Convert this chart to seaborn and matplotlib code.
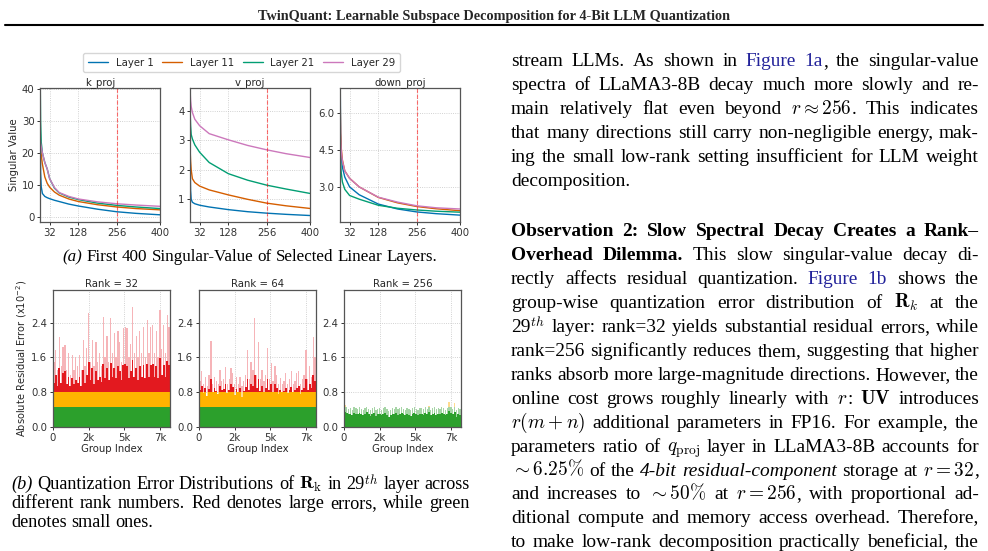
import re
import numpy as np
import pandas as pd
import matplotlib
matplotlib.use("Agg")
import matplotlib.pyplot as plt
import seaborn as sns
from matplotlib.lines import Line2D

# ------------------------------------------------------------------ data
LAYERS = ["Layer 1", "Layer 11", "Layer 21", "Layer 29"]
LAYER_COLORS = ["#0173b2", "#d55e00", "#029e73", "#cc78bc"]

# k_proj singular values (index -> value)
K_X = [1, 2, 4, 8, 16, 24, 32, 48, 64, 96, 128, 192, 256, 320, 400]
K_L1 = [27, 14, 9.5, 7.3, 6.4, 6.0, 5.7, 5.2, 4.8, 4.0, 3.4, 2.4, 1.6, 1.1, 0.65]
K_L11 = [22, 21, 19.5, 16.5, 12.5, 10.5, 9.3, 7.8, 6.8, 5.6, 4.8, 3.8, 3.1, 2.6, 2.2]
K_L21 = [40, 30, 23.5, 20, 17, 15, 12, 9.0, 7.5, 6.2, 5.4, 4.3, 3.6, 3.1, 2.6]
K_L29 = [24, 23, 22, 20, 17, 15, 12, 9.2, 7.6, 6.4, 5.6, 4.7, 4.1, 3.7, 3.3]

# v_proj
V_X = [1, 2, 4, 8, 16, 32, 64, 128, 192, 256, 320, 400]
V_L1 = [1.9, 1.3, 1.0, 0.9, 0.85, 0.8, 0.74, 0.65, 0.58, 0.53, 0.49, 0.45]
V_L11 = [2.55, 2.3, 2.0, 1.7, 1.57, 1.45, 1.32, 1.15, 1.0, 0.87, 0.78, 0.69]
V_L21 = [3.8, 3.5, 3.2, 3.05, 2.85, 2.6, 2.25, 1.87, 1.65, 1.48, 1.35, 1.2]
V_L29 = [4.55, 4.35, 4.15, 3.95, 3.72, 3.5, 3.23, 3.02, 2.83, 2.68, 2.55, 2.42]

# down_proj
D_X = [1, 2, 4, 8, 16, 32, 64, 128, 192, 256, 320, 400]
D_L1 = [6.8, 5.2, 4.3, 3.8, 3.4, 3.0, 2.68, 2.3, 2.1, 1.98, 1.91, 1.85]
D_L11 = [6.3, 5.2, 4.6, 4.1, 3.65, 3.35, 3.0, 2.57, 2.35, 2.2, 2.11, 2.03]
D_L21 = [4.9, 4.0, 3.6, 3.2, 2.9, 2.65, 2.5, 2.25, 2.13, 2.06, 2.01, 1.97]
D_L29 = [6.0, 5.0, 4.5, 4.05, 3.65, 3.35, 3.0, 2.58, 2.38, 2.23, 2.15, 2.1]

TOP_PANELS = ["k_proj", "v_proj", "down_proj"]

# residual error per block of 128 groups (x1e-2); 8192 groups in total
N_GROUPS = 8192
RANKS = ["Rank = 32", "Rank = 64", "Rank = 256"]
R32_PEAK = [1.50, 1.77, 1.30, 2.08, 1.40, 1.85, 1.89, 1.30, 1.70, 1.20, 1.66, 1.30, 1.62, 1.40, 1.65, 1.30,
            2.00, 1.40, 1.81, 2.61, 1.50, 2.00, 1.40, 1.95, 1.50, 1.70, 1.40, 2.54, 1.60, 2.10, 1.50, 2.50,
            1.70, 2.16, 1.60, 2.20, 1.95, 1.50, 2.27, 2.31, 2.27, 1.60, 1.90, 2.77, 1.70, 2.10, 1.60, 2.20,
            1.70, 2.30, 1.60, 2.46, 1.70, 2.30, 2.35, 1.70, 2.20, 1.60, 2.69, 1.80, 2.35, 1.70, 2.58, 2.30]
R32_SOLID = [1.02, 1.20, 0.95, 1.35, 1.02, 1.25, 1.28, 0.98, 1.15, 0.95, 1.12, 1.00, 1.08, 1.02, 1.15, 0.95,
             1.30, 1.02, 1.20, 1.50, 1.08, 1.35, 1.00, 1.28, 1.08, 1.15, 1.03, 1.45, 1.12, 1.35, 1.08, 1.48,
             1.15, 1.35, 1.12, 1.40, 1.28, 1.08, 1.42, 1.45, 1.40, 1.12, 1.28, 1.55, 1.15, 1.35, 1.08, 1.40,
             1.15, 1.42, 1.12, 1.45, 1.15, 1.42, 1.45, 1.15, 1.40, 1.12, 1.58, 1.20, 1.42, 1.15, 1.52, 1.42]
R64_PEAK = [1.05, 1.28, 1.00, 1.16, 0.95, 1.20, 1.98, 1.00, 1.15, 1.05, 1.00, 1.31, 1.05, 1.10, 1.39, 1.00,
            1.10, 1.35, 1.25, 1.00, 1.15, 1.00, 1.15, 0.95, 1.05, 1.20, 1.77, 1.10, 1.50, 1.30, 2.50, 1.20,
            1.96, 1.10, 1.30, 1.05, 1.20, 1.81, 1.10, 1.47, 1.05, 1.40, 1.20, 1.00, 1.12, 1.00, 1.05, 1.24,
            1.00, 1.10, 1.28, 1.00, 1.05, 1.24, 1.28, 1.00, 1.10, 1.20, 1.77, 1.10, 1.40, 1.15, 2.08, 1.60]
R64_SOLID = [0.85, 0.95, 0.78, 0.90, 0.72, 0.88, 1.10, 0.80, 0.90, 0.82, 0.75, 0.95, 0.85, 0.88, 1.00, 0.78,
             0.85, 0.98, 0.92, 0.74, 0.88, 0.80, 0.90, 0.70, 0.82, 0.92, 1.10, 0.85, 1.00, 0.95, 1.20, 0.90,
             1.10, 0.82, 0.95, 0.80, 0.90, 1.10, 0.85, 1.00, 0.80, 0.98, 0.90, 0.76, 0.86, 0.80, 0.82, 0.90,
             0.78, 0.86, 0.92, 0.80, 0.84, 0.90, 0.95, 0.75, 0.86, 0.90, 1.10, 0.85, 1.00, 0.90, 1.20, 1.05]
R256_PEAK = [0.50, 0.45, 0.42, 0.44, 0.40, 0.46, 0.43, 0.41, 0.45, 0.42, 0.40, 0.44, 0.47, 0.41, 0.39, 0.43,
             0.45, 0.38, 0.42, 0.44, 0.40, 0.43, 0.46, 0.41, 0.36, 0.40, 0.44, 0.42, 0.45, 0.41, 0.43, 0.47,
             0.42, 0.40, 0.44, 0.41, 0.39, 0.43, 0.46, 0.42, 0.40, 0.44, 0.43, 0.41, 0.45, 0.42, 0.48, 0.40,
             0.43, 0.45, 0.41, 0.44, 0.42, 0.46, 0.43, 0.40, 0.44, 0.58, 0.45, 0.42, 0.55, 0.40, 0.44, 0.41]
R256_SOLID = [0.34, 0.32, 0.30, 0.31, 0.28, 0.33, 0.30, 0.29, 0.32, 0.30, 0.27, 0.31, 0.34, 0.29, 0.26, 0.30,
              0.32, 0.25, 0.29, 0.31, 0.28, 0.30, 0.33, 0.28, 0.22, 0.27, 0.31, 0.29, 0.32, 0.28, 0.30, 0.33,
              0.29, 0.27, 0.31, 0.28, 0.26, 0.30, 0.33, 0.29, 0.27, 0.31, 0.30, 0.28, 0.32, 0.29, 0.34, 0.27,
              0.30, 0.32, 0.28, 0.31, 0.29, 0.33, 0.30, 0.27, 0.31, 0.36, 0.32, 0.29, 0.34, 0.22, 0.30, 0.28]
GREEN_MAX = 0.46
ORANGE_MAX = 0.80

# page text
TITLE = "TwinQuant: Learnable Subspace Decomposition for 4-Bit LLM Quantization"
CAP_A = "<i>(a)</i> First 400 Singular-Value of Selected Linear Layers."
CAP_B = [
    "<i>(b)</i> Quantization Error Distributions of <m>$\\mathbf{R}_\\mathrm{k}$</m> in 29<m>$^{th}$</m> layer across",
    "different rank numbers.  Red denotes large errors, while green",
    "denotes small ones.",
]
BODY_1 = [
    "stream LLMs.  As shown in <l>Figure 1a</l>, the singular-value",
    "spectra of LLaMA3-8B decay much more slowly and re-",
    "main relatively flat even beyond <m>$r \\approx 256$</m>.  This indicates",
    "that many directions still carry non-negligible energy, mak-",
    "ing the small low-rank setting insufficient for LLM weight",
    "decomposition.",
]
BODY_2 = [
    "<b>Observation 2: Slow Spectral Decay Creates a Rank–</b>",
    "<b>Overhead Dilemma.</b> This slow singular-value decay di-",
    "rectly affects residual quantization. <l>Figure 1b</l> shows the",
    "group-wise quantization error distribution of <m>$\\mathbf{R}_k$</m> at the",
    "29<m>$^{th}$</m> layer: rank=32 yields substantial residual errors, while",
    "rank=256 significantly reduces them, suggesting that higher",
    "ranks absorb more large-magnitude directions. However, the",
    "online cost grows roughly linearly with <m>$r$</m>: <m>$\\mathbf{UV}$</m> introduces",
    "<m>$r(m+n)$</m> additional parameters in FP16. For example, the",
    "parameters ratio of <m>$q_{\\mathrm{proj}}$</m> layer in LLaMA3-8B accounts for",
    "<m>$\\sim 6.25\\%$</m> of the <i>4-bit residual-component</i> storage at <m>$r = 32$</m>,",
    "and increases to <m>$\\sim 50\\%$</m> at <m>$r = 256$</m>, with proportional ad-",
    "ditional compute and memory access overhead. Therefore,",
    "to make low-rank decomposition practically beneficial, the",
]

# ------------------------------------------------------------------ setup
W, H = 988, 551
sns.set_theme(style="ticks")
plt.rcParams["font.family"] = ["DejaVu Sans"]
plt.rcParams.update({
    "axes.edgecolor": "#444444", "axes.linewidth": 0.9,
    "xtick.color": "#333333", "ytick.color": "#333333",
    "xtick.major.size": 2.5, "ytick.major.size": 2.5,
    "xtick.major.width": 0.7, "ytick.major.width": 0.7,
    "xtick.major.pad": 1.5, "ytick.major.pad": 1.5,
    "xtick.labelsize": 7.3, "ytick.labelsize": 7.3,
})
fig = plt.figure(figsize=(W / 100, H / 100), dpi=100)
fig.patch.set_facecolor("white")
renderer = fig.canvas.get_renderer()
SERIF = "Liberation Serif"


def ax_px(x0, y0, x1, y1):
    return fig.add_axes([x0 / W, 1 - y1 / H, (x1 - x0) / W, (y1 - y0) / H])


def style_axes(ax):
    ax.grid(True, linestyle=":", linewidth=0.6, color="#c4c4c4")
    ax.set_axisbelow(True)
    for s in ax.spines.values():
        s.set_visible(True)
        s.set_color("#555555")


# ------------------------------------------------------------------ top row
top_boxes = [(40, 88, 160, 222), (190, 88, 310, 222), (340, 88, 460, 222)]
top_data = [
    (K_X, [K_L1, K_L11, K_L21, K_L29], (-1.6, 40.3), [0, 10, 20, 30, 40], ["0", "10", "20", "30", "40"]),
    (V_X, [V_L1, V_L11, V_L21, V_L29], (0.23, 4.78), [1, 2, 3, 4], ["1", "2", "3", "4"]),
    (D_X, [D_L1, D_L11, D_L21, D_L29], (1.57, 7.03), [3.0, 4.5, 6.0], ["3.0", "4.5", "6.0"]),
]
for i, (box, (xs, series, ylim, yt, ytl)) in enumerate(zip(top_boxes, top_data)):
    ax = ax_px(*box)
    frames = [pd.DataFrame({"idx": xs, "value": v, "layer": name}) for v, name in zip(series, LAYERS)]
    df = pd.concat(frames, ignore_index=True)
    sns.lineplot(data=df, x="idx", y="value", hue="layer", palette=LAYER_COLORS,
                 linewidth=1.0, legend=False, ax=ax)
    ax.axvline(256, color="red", linestyle="--", linewidth=0.8, alpha=0.55)
    ax.set_xlim(0, 400)
    ax.set_ylim(*ylim)
    ax.set_xticks([32, 128, 256, 400])
    ax.set_xticklabels(["32", "128", "256", "400"])
    ax.set_yticks(yt)
    ax.set_yticklabels(ytl)
    ax.set_xlabel("")
    ax.set_ylabel("Singular Value" if i == 0 else "", fontsize=7.3, labelpad=2)
    ax.set_title(TOP_PANELS[i], fontsize=7.3, pad=2)
    style_axes(ax)

handles = [Line2D([], [], color=c, lw=1.0) for c in LAYER_COLORS]
fig.legend(handles, LAYERS, loc="center", bbox_to_anchor=(241.5 / W, 1 - 62.8 / H),
           ncol=4, fontsize=7.3, frameon=True, handlelength=2.0, columnspacing=0.85,
           borderpad=0.45, handletextpad=0.75, edgecolor="#cccccc", fancybox=True)

# ------------------------------------------------------------------ bottom row
bot_boxes = [(53, 290, 170, 427), (199, 290, 316, 427), (344, 290, 461, 427)]
bot_data = [(R32_PEAK, R32_SOLID), (R64_PEAK, R64_SOLID), (R256_PEAK, R256_SOLID)]
n_bins = len(R32_PEAK)
bin_w = N_GROUPS / n_bins
centers = bin_w * (np.arange(n_bins) + 0.5)
LIGHT = ["#f6b4b8", "#ffdb90", "#a6d5a6"]
SOLID = ["#e3191f", "#ffb300", "#2ca02c"]
for i, (box, (peak, solid)) in enumerate(zip(bot_boxes, bot_data)):
    ax = ax_px(*box)
    peak = np.asarray(peak)
    solid = np.asarray(solid)
    light_layers = [(peak, LIGHT[0]), (np.minimum(peak, ORANGE_MAX), LIGHT[1]),
                    (np.minimum(peak, GREEN_MAX), LIGHT[2])]
    solid_layers = [(solid, SOLID[0]), (np.minimum(solid, ORANGE_MAX), SOLID[1]),
                    (np.minimum(solid, GREEN_MAX), SOLID[2])]
    for h, c in light_layers:
        sns.histplot(x=centers, weights=h, bins=n_bins, binrange=(0, N_GROUPS), stat="count",
                     element="bars", shrink=0.7, color=c, alpha=1, linewidth=0, ax=ax)
    for h, c in solid_layers:
        sns.histplot(x=centers, weights=h, bins=n_bins, binrange=(0, N_GROUPS), stat="count",
                     element="bars", color=c, alpha=1, linewidth=0, ax=ax)
    ax.set_xlim(0, N_GROUPS)
    ax.set_ylim(0, 3.15)
    ax.set_xticks([0, 2500, 5000, 7500])
    ax.set_xticklabels(["0", "2k", "5k", "7k"])
    ax.set_yticks([0, 0.8, 1.6, 2.4])
    ax.set_yticklabels(["0.0", "0.8", "1.6", "2.4"])
    ax.set_xlabel("Group Index", fontsize=7.3, labelpad=1)
    ax.set_ylabel("Absolute Residual Error (x10$^{-2}$)" if i == 0 else "", fontsize=7.1, labelpad=2)
    ax.set_title(RANKS[i], fontsize=7.3, pad=2)
    style_axes(ax)


# ------------------------------------------------------------------ page text
def parse(markup):
    segs = []
    for m in re.finditer(r"<([a-z])>(.*?)</\1>|([^<]+)", markup):
        if m.group(3) is not None:
            segs.append(("n", m.group(3)))
        else:
            segs.append((m.group(1), m.group(2)))
    words = [[]]
    for st, txt in segs:
        if st == "m":
            words[-1].append((txt, st))
            continue
        parts = txt.split(" ")
        for j, p in enumerate(parts):
            if j > 0 and words[-1]:
                words.append([])
            if p:
                words[-1].append((p, st))
    return [w for w in words if w]


def text_kw(st, size):
    kw = dict(fontfamily=SERIF, fontsize=size, color="black", ha="left", va="baseline")
    if st == "b":
        kw["fontweight"] = "bold"
    elif st == "i":
        kw["fontstyle"] = "italic"
    elif st == "l":
        kw["color"] = "#22229a"
    elif st == "m":
        kw["math_fontfamily"] = "cm"
    return kw


def natural_width(markup, size):
    words = parse(markup)
    total = 0.0
    for word in words:
        for txt, st in word:
            t = fig.text(0, 0, txt, **text_kw(st, size))
            total += t.get_window_extent(renderer).width
            t.remove()
    return total + 0.25 * size * 100 / 72 * (len(words) - 1)


def fit_size(markup, target, base=12.0):
    return base * target / natural_width(markup, base)


def draw_line(markup, x0, x1, y, size, justify=True, align="left"):
    words = parse(markup)
    objs, widths = [], []
    for word in words:
        pieces, w = [], 0.0
        for txt, st in word:
            t = fig.text(0, 0, txt, **text_kw(st, size))
            pw = t.get_window_extent(renderer).width
            pieces.append((t, pw))
            w += pw
        objs.append(pieces)
        widths.append(w)
    space = 0.25 * size * 100 / 72
    total = sum(widths)
    gap = (x1 - x0 - total) / (len(words) - 1) if (justify and len(words) > 1) else space
    if align == "center":
        x = (x0 + x1) / 2 - (total + gap * (len(words) - 1)) / 2
    else:
        x = x0
    for pieces, ww in zip(objs, widths):
        cx = x
        for t, pw in pieces:
            t.set_position((cx / W, 1 - y / H))
            cx += pw
        x += ww + gap


t = fig.text(494 / W, 1 - 20 / H, TITLE, fontfamily=SERIF, fontweight="bold", fontsize=10,
             ha="center", va="baseline")
tw = t.get_window_extent(renderer).width
t.set_fontsize(10 * 472 / tw)
fig.add_artist(Line2D([5 / W, 983 / W], [1 - 25 / H, 1 - 25 / H], color="black", lw=1.5))

size_a = fit_size(CAP_A, 374)
draw_line(CAP_A, 63, 437, 261, size_a, justify=False, align="center")
size_b = min(fit_size(line, 459) for line in CAP_B[:-1])
for k, line in enumerate(CAP_B):
    draw_line(line, 11, 470, 489.3 + 18.7 * k, size_b, justify=(k < len(CAP_B) - 1))

justified = BODY_1[:-1] + BODY_2
size_body = min(fit_size(line, 468) for line in justified)
for k, line in enumerate(BODY_1):
    draw_line(line, 511, 979, 66.5 + 23.9 * k, size_body, justify=(k < len(BODY_1) - 1))
for k, line in enumerate(BODY_2):
    draw_line(line, 511, 979, 236.5 + 23.9 * k, size_body, justify=True)

fig.savefig("out.png", dpi=100, facecolor="white")
